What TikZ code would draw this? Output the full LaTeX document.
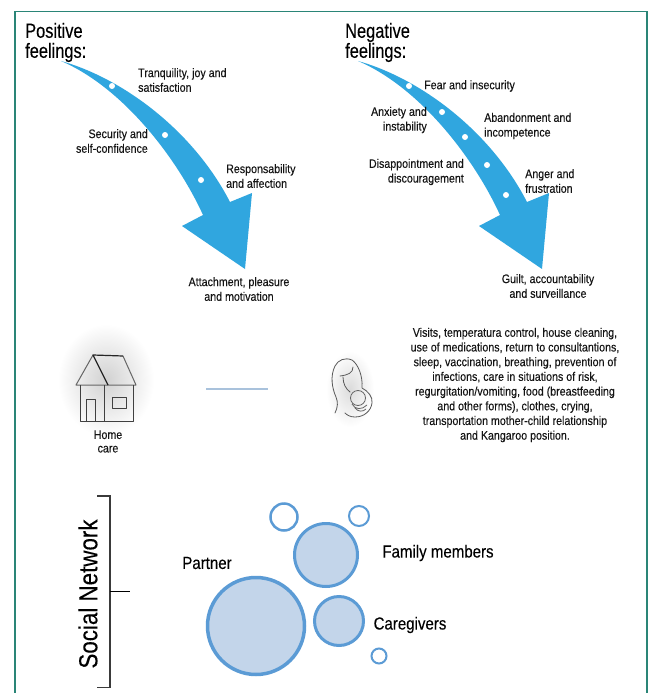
\documentclass[tikz,border=0pt]{standalone}
\usepackage{fontspec}
\setmainfont[FakeStretch=0.86,FakeBold=0.12]{Liberation Sans}
\newfontfamily\headfont[FakeStretch=0.8,FakeBold=0.12]{Liberation Sans}
\definecolor{frameteal}{HTML}{2A8577}
\definecolor{arrowblue}{HTML}{30A6DF}
\definecolor{ringblue}{HTML}{5B9BD5}
\definecolor{bubblefill}{HTML}{C3D5EA}
\definecolor{linkblue}{HTML}{A9C2DC}
\definecolor{inkgray}{HTML}{3A3A3A}
\tikzset{
  body/.style={inner sep=0pt,font=\fontsize{12.4}{14.7}\selectfont,text=black!92},
  lft/.style={body,anchor=west,align=left},
  rgt/.style={body,anchor=east,align=right},
  ctr/.style={body,anchor=center,align=center},
  heading/.style={inner sep=0pt,anchor=west,align=left,font=\headfont\fontsize{20.5}{20}\selectfont},
  bubblelabel/.style={inner sep=0pt,anchor=center,font=\fontsize{17.5}{18}\selectfont},
  wdot/.style={circle,fill=white,draw=none,minimum size=6pt,inner sep=0pt},
  bubble/.style={circle,draw=ringblue,fill=bubblefill,inner sep=0pt},
  ring/.style={circle,draw=ringblue,fill=white,inner sep=0pt},
  bigarrow/.pic={
    \fill[arrowblue] (61,61) .. controls (122,78) and (193,130) .. (230,202)
      -- (252,193) -- (245,269) -- (182,226) -- (203,215)
      .. controls (178,160) and (124,88) .. (61,61) -- cycle;
  }
}
\begin{document}
\begin{tikzpicture}[x=1pt,y=-1pt]
\useasboundingbox (0,0) rectangle (654,693);
\fill[white] (0,0) rectangle (654,693);
\draw[frameteal,line width=1.2pt] (15,693) -- (15,11.5) -- (647,11.5) -- (647,693);

% arrows
\pic at (0,0) {bigarrow};
\pic at (297,0) {bigarrow};
\node[wdot] (p1) at (112,86) {};
\node[wdot] (p2) at (165,135) {};
\node[wdot] (p3) at (201,180) {};
\node[wdot] (n1) at (409,86) {};
\node[wdot] (n2) at (442,112) {};
\node[wdot] (n3) at (465,137) {};
\node[wdot] (n4) at (487,165) {};
\node[wdot] (n5) at (506,195) {};

% headings
\node[heading] (hpos) at (25,42.5) {Positive\\feelings:};
\node[heading] (hneg) at (345,42.5) {Negative\\feelings:};

% positive labels
\node[lft] (t1) at (138,80) {Tranquility, joy and\\satisfaction};
\node[rgt] (t2) at (148,141) {Security and\\self-confidence};
\node[lft] (t3) at (226,176) {Responsability\\and affection};
\node[ctr] (t4) at (239,289) {Attachment, pleasure\\and motivation};

% negative labels
\node[lft] (u1) at (424,86) {Fear and insecurity};
\node[rgt] (u2) at (427,120) {Anxiety and\\instability};
\node[lft] (u3) at (484,126) {Abandonment and\\incompetence};
\node[rgt] (u4) at (464,172) {Disappointment and\\discouragement};
\node[lft] (u5) at (525,181) {Anger and\\frustration};
\node[ctr] (u6) at (548,286) {Guilt, accountability\\and surveillance};

% home care
\shade[inner color=black!18,outer color=white,draw=none] (106,380) ellipse (48 and 56);
\draw[black!60,line width=1pt,line join=round]
  (123,356) -- (136,385) -- (76,385) -- (93,355);
\draw[black!85,line width=1.2pt,line join=round]
  (108,385) -- (93,355) -- (123,356);
\draw[black!75,line width=1pt,line join=round]
  (80,385) -- (80,421) -- (133,421) -- (133,385)
  (104,385) -- (104,421)
  (86,421) -- (86,399) -- (95,399) -- (95,421)
  (112,397) rectangle (126,408);
\node[ctr,font=\fontsize{12.4}{13.5}\selectfont] (home) at (108,441.5) {Home\\care};

% link line
\coordinate (la) at (206,389);
\coordinate (lb) at (268,389);
\draw[linkblue,line width=1.5pt] (la) -- (lb);

% mother and child
\shade[inner color=black!14,outer color=white,draw=none] (350,389) ellipse (24 and 38);
\draw[black!65,line width=.8pt,line cap=round]
  (335,413) .. controls (338,407) and (338,402) .. (336,397)
  .. controls (332,388) and (330,376) .. (335,366)
  .. controls (338,360) and (345,357) .. (352,360)
  .. controls (358,364) and (363,376) .. (362,388)
  (353,367) .. controls (353,373) and (348,375) .. (340,376)
  (343,377) .. controls (343,384) and (346,389) .. (350,392)
  (362,388) .. controls (368,391) and (373,397) .. (372,403)
  .. controls (371,411) and (364,417) .. (355,417)
  .. controls (350,417) and (347,415) .. (345,413);
\draw[black!60,line width=.8pt]
  (358,398) circle (7.5)
  (352,404) .. controls (355,410) and (362,410) .. (367,405)
  (355,408) .. controls (358,412) and (363,412) .. (366,409);

% task text
\node[ctr] (tasks) at (515,385) {Visits, temperatura control, house cleaning,\\use of medications, return to consultantions,\\sleep, vaccination, breathing, prevention of\\infections, care in situations of risk,\\regurgitation/vomiting, food (breastfeeding\\and other forms), clothes, crying,\\transportation mother-child relationship\\and Kangaroo position.};

% social network
\draw[inkgray,line width=1.1pt] (97,496) -- (110,496) -- (110,687.5) -- (97,687.5);
\draw[black,line width=.9pt] (110,591) -- (130,591);
\node[inner sep=0pt,rotate=90,font=\fontsize{26}{28}\selectfont] (sn) at (88,594) {Social Network};

\node[bubble,line width=3.5pt,minimum size=97pt] (partner) at (256,626) {};
\node[bubble,line width=3pt,minimum size=63pt] (family) at (326,555) {};
\node[bubble,line width=3pt,minimum size=49pt] (care) at (339,621) {};
\node[ring,line width=2.5pt,minimum size=27pt] (r1) at (284,517) {};
\node[ring,line width=2pt,minimum size=20pt] (r2) at (359,516) {};
\node[ring,line width=2pt,minimum size=15pt] (r3) at (379,656) {};
\node[bubblelabel] (lp) at (207,563) {Partner};
\node[bubblelabel] (lf) at (438,553) {Family members};
\node[bubblelabel] (lc) at (410,625) {Caregivers};
\end{tikzpicture}
\end{document}
